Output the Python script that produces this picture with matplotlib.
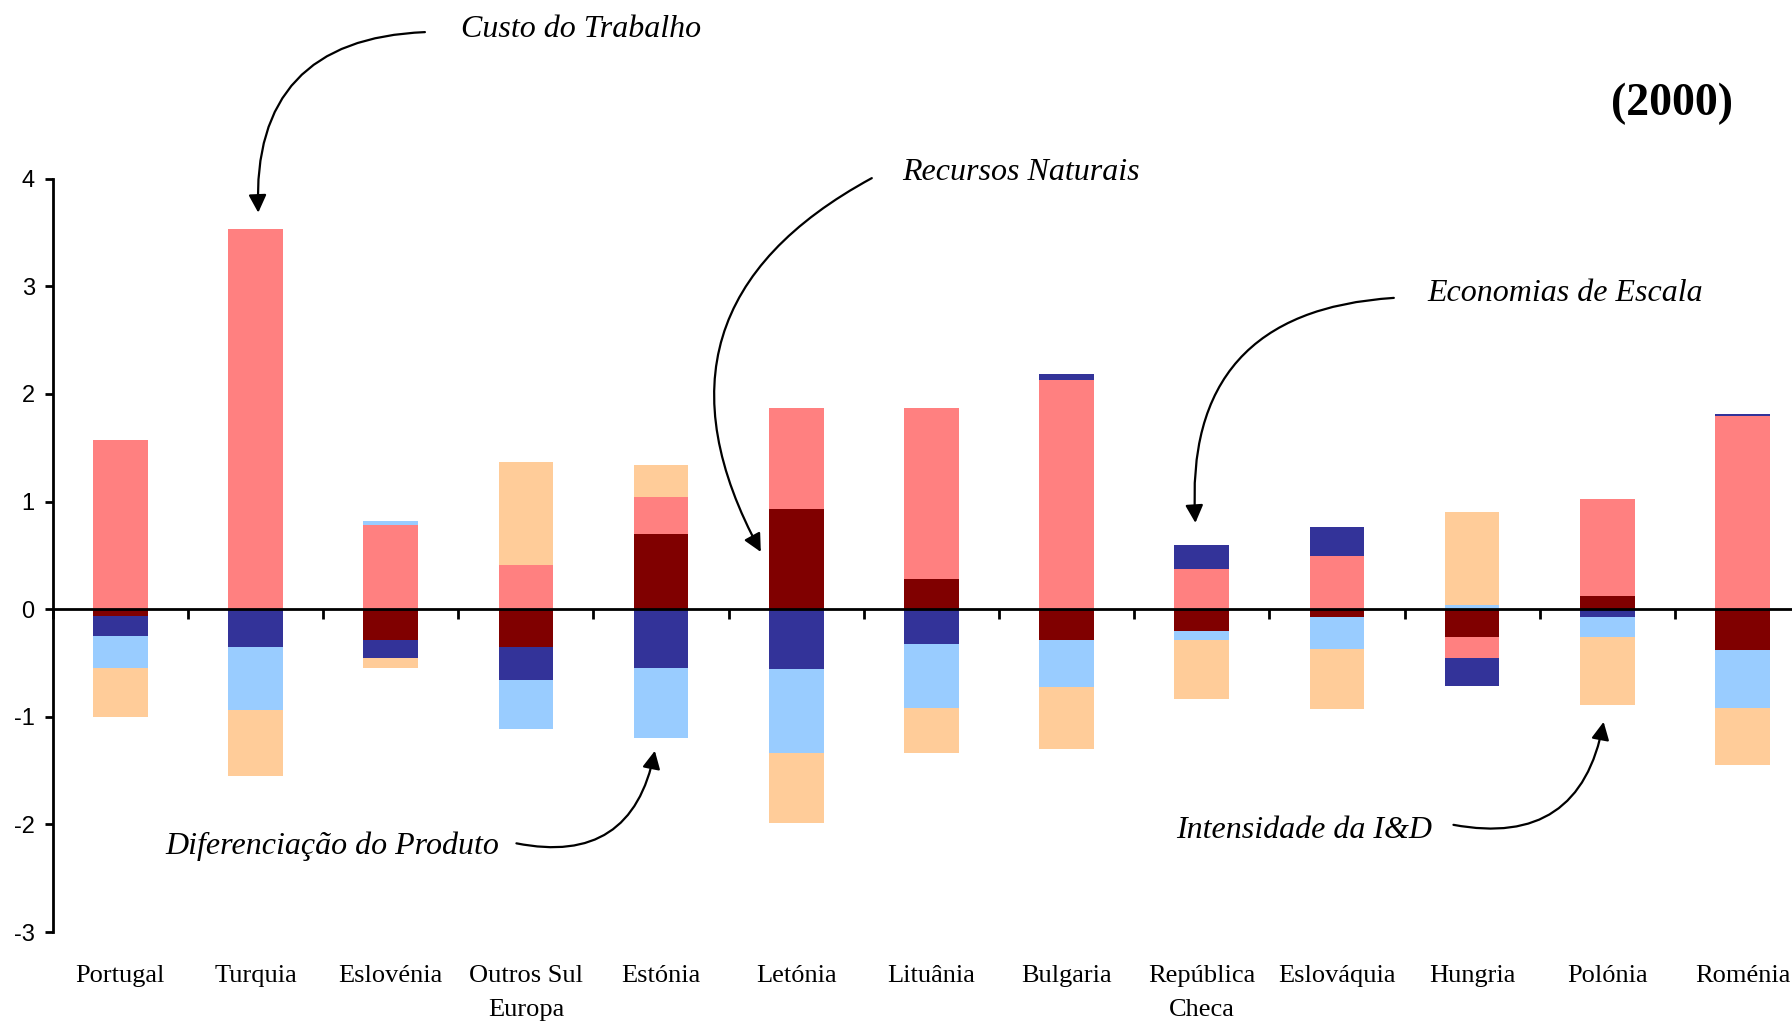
import matplotlib
matplotlib.use("Agg")
import matplotlib.pyplot as plt
import matplotlib.transforms as mtransforms
import numpy as np

# categorias e valores (2000)
countries = ["Portugal", "Turquia", "Eslovénia", "Outros Sul\nEuropa", "Estónia", "Letónia",
             "Lituânia", "Bulgaria", "República\nCheca", "Eslováquia", "Hungria", "Polónia", "Roménia"]

recursos_naturais = [-0.06, 0.00, -0.29, -0.35, 0.70, 0.93, 0.28, -0.29, -0.20, -0.07, -0.26, 0.12, -0.38]
custo_trabalho = [1.57, 3.53, 0.78, 0.41, 0.34, 0.94, 1.59, 2.13, 0.37, 0.49, -0.19, 0.90, 1.80]
economias_escala = [-0.19, -0.35, -0.16, -0.31, -0.55, -0.56, -0.32, 0.055, 0.23, 0.27, -0.26, -0.07, 0.012]
diferenciacao = [-0.30, -0.59, 0.04, -0.45, -0.65, -0.78, -0.60, -0.43, -0.09, -0.30, 0.04, -0.19, -0.54]
intensidade_id = [-0.45, -0.61, -0.10, 0.96, 0.30, -0.65, -0.42, -0.58, -0.54, -0.56, 0.86, -0.63, -0.53]

series = [recursos_naturais, custo_trabalho, economias_escala, diferenciacao, intensidade_id]
colors = ["#800000", "#FF8080", "#333399", "#99CCFF", "#FFCC99"]

y_ticks = [4, 3, 2, 1, 0, -1, -2, -3]
y_tick_labels = ["4", "3", "2", "1", "0", "-1", "-2", "-3"]

fig = plt.figure(figsize=(17.92, 10.23), dpi=100)
ax = fig.add_axes([0.02946, 0.08895, 0.9806, 0.7363])

x = np.arange(len(countries))
pos_bottom = np.zeros(len(countries))
neg_bottom = np.zeros(len(countries))
for vals, col in zip(series, colors):
    v = np.array(vals, dtype=float)
    bottom = np.where(v >= 0, pos_bottom, neg_bottom)
    ax.bar(x, v, width=0.405, bottom=bottom, color=col, linewidth=0, zorder=1)
    pos_bottom += np.where(v >= 0, v, 0)
    neg_bottom += np.where(v < 0, v, 0)

ax.set_xlim(-0.5, len(countries) - 0.5)
ax.set_ylim(-3, 4)

for s in ["top", "right"]:
    ax.spines[s].set_visible(False)
ax.spines["bottom"].set_position(("data", 0))
ax.spines["bottom"].set_linewidth(2.0)
ax.spines["left"].set_linewidth(2.0)

ax.set_xticks(np.arange(-0.5, len(countries)))
ax.set_xticklabels([])
ax.tick_params(axis="x", direction="out", length=7, width=2)
ax.set_yticks(y_ticks)
ax.set_yticklabels(y_tick_labels, fontfamily="Liberation Sans", fontsize=17)
ax.tick_params(axis="y", direction="out", length=6, width=2, pad=7)

trans = mtransforms.blended_transform_factory(ax.transData, ax.transAxes)
for i, name in enumerate(countries):
    ax.text(i, -0.0438, name, transform=trans, ha="center", va="top",
            fontfamily="Liberation Serif", fontsize=19, linespacing=1.72)

# etiquetas com setas curvas
ann = dict(fontfamily="Liberation Serif", fontstyle="italic", fontsize=23, ha="center", va="baseline")
ax.text(3.41, 5.319, "Custo do Trabalho", **ann)
ax.text(6.661, 3.988, "Recursos Naturais", **ann)
ax.text(10.691, 2.864, "Economias de Escala", **ann)
ax.text(1.569, -2.278, "Diferenciação do Produto", **ann)
ax.text(8.759, -2.129, "Intensidade da I&D", **ann)

ax.text(11.48, 4.59, "(2000)", fontfamily="Liberation Serif", fontweight="bold",
        fontsize=33, ha="center", va="baseline")

arrows = [
    ((2.253, 5.363), (1.020, 3.685)),
    ((5.559, 4.006), (4.738, 0.532)),
    ((9.421, 2.893), (7.953, 0.802)),
    ((2.930, -2.176), (3.954, -1.316)),
    ((9.862, -2.004), (10.973, -1.047)),
]
for start, end in arrows:
    ax.annotate("", xy=end, xytext=start, annotation_clip=False,
                arrowprops=dict(arrowstyle="-|>,head_length=0.6,head_width=0.3",
                                mutation_scale=18, color="black", lw=1.6,
                                shrinkA=0, shrinkB=0,
                                connectionstyle="arc3,rad=0.5"))

fig.savefig("out.png", dpi=100)
